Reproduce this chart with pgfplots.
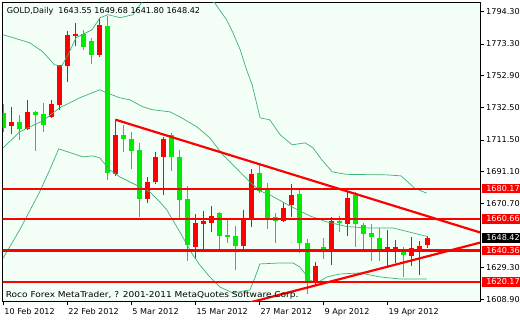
\documentclass[border=0pt]{standalone}
\usepackage{graphicx}
\usepackage{pgfplots}
\pgfplotsset{compat=1.18}
\usepackage{pgfplotstable}
\usepackage{fontspec}
\setmainfont{DejaVu Sans}
\definecolor{bg}{HTML}{F4FFF8}
\definecolor{cgreen}{HTML}{00EB00}
\definecolor{band}{HTML}{3CB371}
\newcommand\mtfont{\fontsize{8.1bp}{10bp}\selectfont}

% bullish (red): i low high bodybottom bodytop
\pgfplotstableread{
i L H B T
1 1715.45 1733.05 1720.80 1723.38
3 1718.03 1737.37 1718.67 1729.63
6 1725.57 1737.37 1726.41 1734.79
7 1730.73 1759.93 1733.70 1759.48
8 1748.78 1781.85 1758.84 1779.28
9 1771.73 1786.82 1778.63 1779.92
12 1765.09 1790.04 1766.38 1785.27
14 1688.37 1724.48 1689.66 1714.81
18 1670.77 1687.92 1673.54 1684.70
19 1683.22 1704.04 1684.31 1700.82
20 1676.12 1713.71 1700.43 1712.03
24 1635.19 1663.87 1642.79 1657.88
25 1639.06 1665.81 1657.43 1659.04
26 1652.27 1669.03 1658.27 1662.26
30 1641.31 1666.45 1643.24 1660.46
31 1655.30 1692.69 1660.46 1689.34
35 1658.52 1670.77 1659.55 1667.74
36 1662.13 1683.22 1669.87 1676.12
39 1618.10 1632.93 1619.71 1630.35
41 1630.99 1661.75 1640.21 1659.36
43 1649.88 1678.25 1657.43 1674.38
48 1629.90 1653.56 1640.21 1642.41
49 1632.48 1647.11 1640.21 1642.41
51 1630.35 1648.85 1636.80 1641.76
52 1624.55 1646.66 1640.21 1643.24
53 1641.80 1649.68 1643.55 1648.42
}\bulltab

% bearish (green): i low high bodybottom(close) bodytop(open)
\pgfplotstableread{
i L H B T
0 1716.74 1734.79 1719.52 1728.80
2 1711.58 1727.70 1718.67 1723.19
4 1704.68 1730.20 1727.89 1729.63
5 1716.93 1735.44 1721.45 1728.34
10 1769.60 1782.50 1771.54 1779.92
11 1760.58 1777.15 1766.38 1775.41
13 1685.79 1791.52 1690.50 1785.08
15 1704.04 1721.25 1712.03 1714.81
16 1692.89 1716.93 1704.68 1712.23
17 1662.13 1709.45 1673.54 1705.13
21 1691.79 1716.29 1700.82 1714.81
22 1661.10 1705.13 1672.90 1700.43
23 1633.77 1681.93 1643.89 1673.54
27 1640.66 1665.20 1649.69 1664.71
28 1645.18 1661.10 1649.24 1650.34
29 1627.45 1656.14 1643.24 1649.69
32 1677.22 1696.56 1678.70 1690.50
33 1654.40 1684.05 1660.65 1679.80
34 1644.98 1664.71 1659.55 1661.75
37 1638.54 1680.44 1644.98 1676.77
38 1612.30 1647.56 1619.20 1644.98
40 1634.86 1648.59 1639.57 1642.41
42 1652.46 1662.58 1658.27 1659.36
44 1642.41 1678.25 1657.43 1675.93
45 1640.21 1658.00 1650.98 1656.78
46 1633.77 1657.43 1649.24 1651.82
47 1633.77 1654.66 1640.66 1648.21
50 1623.07 1642.41 1637.44 1641.12
}\beartab

\pgfplotstableread{
x y
0 1779.28
3.3 1774.12
4.9 1768.51
6.4 1759.93
7.3 1758.97
8.1 1766.38
9.1 1777.34
10.1 1779.92
11.1 1782.50
12.1 1790.24
13.1 1792.17
14.6 1790.24
16.2 1792.17
18.3 1807.0
20.2 1808.3
22.4 1800.55
24.6 1803.77
26.4 1799.91
27.9 1788.95
28.7 1780.57
29.6 1769.60
30.4 1756.71
31.1 1747.04
31.7 1734.15
32.1 1725.76
33.3 1724.48
34.6 1714.81
36.1 1708.36
37.7 1709.65
38.7 1706.44
39.8 1698.69
41.1 1690.95
42.9 1689.34
47.9 1689.02
49.7 1688.37
51.4 1680.44
52.9 1677.22
}\bbupper

\pgfplotstableread{
x y
0 1706.42
2.06 1716.74
4.94 1723.83
7.06 1732.21
9.56 1738.66
12.06 1743.82
12.94 1741.88
14.56 1738.66
15.81 1737.37
17.44 1732.86
18.69 1730.92
20.81 1729.63
22.06 1726.41
24.19 1719.97
25.81 1712.87
27.44 1701.91
29.19 1692.89
30.81 1684.51
32.06 1678.70
33.31 1676.12
35.81 1669.03
38.31 1662.58
40.44 1658.71
42.94 1655.69
45.44 1654.85
48.69 1654.85
51.19 1651.62
52.94 1649.37
}\bbmid

\pgfplotstableread{
x y
0 1635.51
2.06 1653.56
4.56 1678.06
5.81 1692.24
6.94 1705.78
9.94 1700.62
11.19 1701.27
12.06 1699.98
13.31 1692.24
14.56 1687.73
15.81 1684.51
17.06 1681.28
18.31 1678.06
19.56 1671.61
20.44 1666.45
22.06 1652.27
23.69 1637.44
24.56 1630.99
25.81 1623.26
27.06 1616.81
28.69 1612.94
30.81 1614.88
31.44 1622.61
32.06 1631.64
34.56 1632.29
36.19 1632.29
37.06 1629.71
38.31 1621.32
39.19 1619.39
40.44 1623.26
42.06 1625.19
44.56 1625.84
47.06 1623.26
49.56 1621.97
52.94 1621.97
}\bblow

\begin{document}
\begin{tikzpicture}
\useasboundingbox (0,0) rectangle (520bp,320bp);
\begin{axis}[
  at={(2.7bp,18.3bp)}, anchor=south west,
  scale only axis, width=477.3bp, height=299bp,
  xmin=-0.0625, xmax=59.5625, ymin=1607.33, ymax=1799.91,
  axis background/.style={fill=bg},
  axis line style={black, line width=0.8bp},
  clip mode=individual,
  tick align=outside, major tick length=3.5bp,
  xtick pos=left, ytick pos=right, yticklabel pos=right,
  xtick={0,8,16,24,32,40,48},
  xticklabels={10 Feb 2012,22 Feb 2012,5 Mar 2012,15 Mar 2012,27 Mar 2012,9 Apr 2012,19 Apr 2012},
  ytick={1608.9,1629.3,1670.7,1691.1,1711.5,1732.5,1752.9,1773.3,1794.3},
  yticklabels={1608.90,1629.30,1670.70,1691.10,1711.50,1732.50,1752.90,1773.30,1794.30},
  tick style={black, line width=0.6bp},
  ticklabel style={font=\mtfont, text=black},
  /pgf/number format/assume math mode=true,
  xticklabel style={anchor=north west, inner xsep=1bp},
  yticklabel style={anchor=west, inner xsep=2.5bp},
]
% wicks and bodies
\addplot[draw=none, mark=none, forget plot, error bars/.cd, y dir=plus, y explicit, error mark=none,
  error bar style={line width=1bp, draw=red}]
  table[x=i, y=L, y error plus expr=\thisrow{H}-\thisrow{L}] {\bulltab};
\addplot[draw=none, mark=none, forget plot, error bars/.cd, y dir=plus, y explicit, error mark=none,
  error bar style={line width=5bp, draw=red}]
  table[x=i, y=B, y error plus expr=\thisrow{T}-\thisrow{B}] {\bulltab};
\addplot[draw=none, mark=none, forget plot, error bars/.cd, y dir=plus, y explicit, error mark=none,
  error bar style={line width=1bp, draw=cgreen}]
  table[x=i, y=L, y error plus expr=\thisrow{H}-\thisrow{L}] {\beartab};
\addplot[draw=none, mark=none, forget plot, error bars/.cd, y dir=plus, y explicit, error mark=none,
  error bar style={line width=5bp, draw=cgreen}]
  table[x=i, y=B, y error plus expr=\thisrow{T}-\thisrow{B}] {\beartab};
% Bollinger bands
\addplot[band, line width=0.7bp, forget plot] table[x=x,y=y] {\bbupper};
\addplot[band, line width=0.7bp, forget plot] table[x=x,y=y] {\bbmid};
\addplot[band, line width=0.7bp, forget plot] table[x=x,y=y] {\bblow};
% horizontal levels
\addplot[red, line width=2.2bp, forget plot] coordinates {(-1,1680.17) (61,1680.17)};
\addplot[red, line width=2.2bp, forget plot] coordinates {(-1,1660.66) (61,1660.66)};
\addplot[red, line width=2.2bp, forget plot] coordinates {(-1,1640.36) (61,1640.36)};
\addplot[red, line width=2.2bp, forget plot] coordinates {(-1,1620.17) (61,1620.17)};
% trendlines
\addplot[red, line width=2.2bp, forget plot] coordinates {(14,1724.6) (59.5625,1651.95)};
\addplot[red, line width=2.2bp, forget plot] coordinates {(28,1603.05) (59.5625,1645.37)};
% texts
\node[anchor=base west, inner sep=0pt, font=\mtfont] at (axis cs:0.44,1792.8)
  {GOLD,Daily\hspace{5bp}1643.55 1649.68 1641.80 1648.42};
\node[anchor=base west, inner sep=0pt, font=\mtfont] at (axis cs:0.31,1609.9)
  {\scalebox{1.11}[1]{Roco Forex MetaTrader, ? 2001-2011 MetaQuotes Software Corp.}};
% price level boxes
\foreach \v/\c in {1680.17/red,1660.66/red,1640.36/red,1620.17/red,1648.42/black}{
  \edef\tmp{\noexpand\node[fill=\c, text=white, anchor=west, xshift=1.6bp, inner xsep=4.5bp, inner ysep=0pt,
    minimum height=9.6bp, font=\noexpand\mtfont] at (axis cs:59.5625,\v) {\v};}
  \tmp
}
\end{axis}
\end{tikzpicture}
\end{document}
